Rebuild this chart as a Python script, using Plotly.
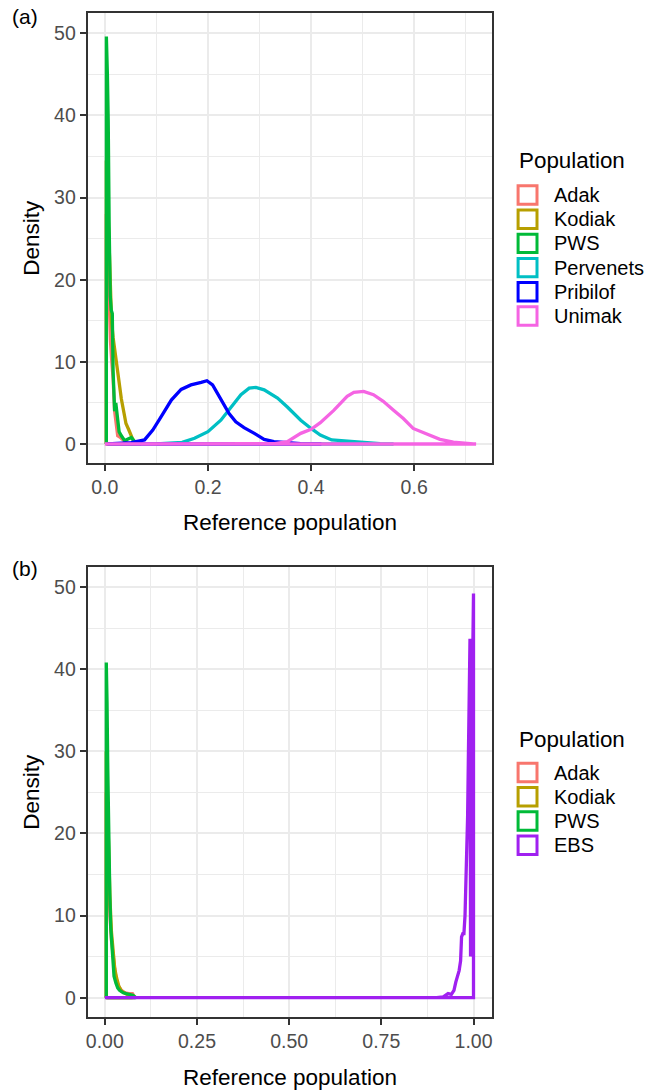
import plotly.graph_objects as go

W, H = 646, 1090
FONT = "Liberation Sans, Arial, Helvetica, sans-serif"

# ---------------- Panel (a) data ----------------
pops_a = ["Adak", "Kodiak", "PWS", "Pervenets", "Pribilof", "Unimak"]
colors_a = ["#F8766D", "#B79F00", "#00BA38", "#00BFC4", "#0000FF", "#F564E3"]

adak_a_x = [0.003, 0.003, 0.005, 0.007, 0.009, 0.011, 0.013, 0.016, 0.019, 0.022, 0.025, 0.030, 0.035, 0.040, 0.045]
adak_a_y = [0, 28, 25, 20, 15, 12.5, 10.5, 8, 4, 2, 1, 0.8, 0.5, 0.3, 0]

kodiak_a_x = [0.003, 0.003, 0.005, 0.007, 0.009, 0.011, 0.013, 0.016, 0.020, 0.025, 0.029, 0.032, 0.035, 0.038, 0.041, 0.046, 0.051, 0.056, 0.062]
kodiak_a_y = [0, 34.5, 31, 27, 22, 18, 15, 13, 11, 8.5, 7, 5.5, 4.5, 3.5, 2.5, 1.8, 0.9, 0.3, 0]

pws_a_x = [0.003, 0.003, 0.005, 0.0066, 0.0085, 0.0105, 0.0125, 0.0145, 0.016, 0.0175, 0.019, 0.0213, 0.0245, 0.0277, 0.032, 0.0386, 0.045, 0.0515, 0.058, 0.064, 0.070]
pws_a_y = [0, 49.6, 45, 39.4, 26.4, 18, 16.3, 15.9, 9, 4.5, 4, 5.0, 2.9, 1.5, 1.0, 0.4, 0.6, 0.8, 0.3, 0.1, 0]

perv_a_x = [0.10, 0.15, 0.174, 0.20, 0.225, 0.245, 0.264, 0.28, 0.293, 0.309, 0.335, 0.354, 0.38, 0.40, 0.418, 0.44, 0.47, 0.50, 0.534, 0.56]
perv_a_y = [0, 0.2, 0.7, 1.5, 2.9, 4.5, 6.0, 6.8, 6.9, 6.6, 5.6, 4.5, 2.9, 1.9, 1.1, 0.5, 0.35, 0.16, 0.04, 0]

prib_a_x = [0.005, 0.051, 0.077, 0.093, 0.109, 0.129, 0.148, 0.167, 0.187, 0.198, 0.209, 0.225, 0.241, 0.254, 0.270, 0.290, 0.309, 0.328, 0.354, 0.38, 0.42]
prib_a_y = [0, 0.16, 0.5, 1.7, 3.3, 5.35, 6.65, 7.2, 7.5, 7.7, 7.2, 5.35, 3.7, 2.7, 2.0, 1.3, 0.57, 0.3, 0.16, 0.04, 0]

unim_a_x = [0.0, 0.30, 0.33, 0.354, 0.38, 0.40, 0.418, 0.444, 0.47, 0.483, 0.502, 0.521, 0.54, 0.56, 0.579, 0.598, 0.624, 0.65, 0.676, 0.70, 0.72, 0.72]
unim_a_y = [0, 0.0, 0.05, 0.3, 1.3, 1.8, 2.6, 4.1, 5.8, 6.3, 6.4, 6.0, 5.2, 4.1, 3.1, 1.9, 1.2, 0.57, 0.24, 0.1, 0.04, 0]

series_a = [(adak_a_x, adak_a_y), (kodiak_a_x, kodiak_a_y), (pws_a_x, pws_a_y),
            (perv_a_x, perv_a_y), (prib_a_x, prib_a_y), (unim_a_x, unim_a_y)]

# ---------------- Panel (b) data ----------------
pops_b = ["Adak", "Kodiak", "PWS", "EBS"]
colors_b = ["#F8766D", "#B79F00", "#00BA38", "#A020F0"]

adak_b_x = [0.004, 0.004, 0.007, 0.010, 0.014, 0.018, 0.022, 0.026, 0.030, 0.036, 0.045, 0.055, 0.065, 0.075, 0.082]
adak_b_y = [0, 25, 20, 15, 10, 7, 5, 3.8, 2.5, 1.5, 0.9, 0.6, 0.5, 0.5, 0]

kodiak_b_x = [0.004, 0.004, 0.007, 0.010, 0.014, 0.018, 0.022, 0.027, 0.032, 0.038, 0.045, 0.055, 0.065, 0.075]
kodiak_b_y = [0, 30, 24, 18, 12, 8, 5.5, 3.5, 2.4, 1.4, 0.8, 0.5, 0.3, 0]

pws_b_x = [0.004, 0.004, 0.006, 0.008, 0.010, 0.0135, 0.016, 0.019, 0.022, 0.025, 0.030, 0.035, 0.040, 0.050, 0.058, 0.068, 0.076, 0.085]
pws_b_y = [0, 40.8, 36, 28, 20, 12.7, 8.6, 6, 4.6, 2.6, 1.8, 1.2, 0.9, 0.6, 0.5, 0.4, 0.3, 0]

ebs_b_x = [0.0, 0.90, 0.918, 0.931, 0.940, 0.947, 0.952, 0.957, 0.961, 0.965, 0.9676, 0.971, 0.974, 0.977, 0.979,
           0.982, 0.984, 0.986, 0.988, 0.9895, 0.9905, 0.992, 0.995, 0.9975, 0.9995, 1.0, 1.0]
ebs_b_y = [0, 0, 0.1, 0.5, 0.4, 0.9, 1.9, 2.6, 3.3, 4.5, 7.4, 7.8, 7.8, 10, 12.7,
           16.7, 22, 28.9, 36, 43.7, 43.7, 5, 15, 40, 49.2, 49.2, 0]

series_b = [(adak_b_x, adak_b_y), (kodiak_b_x, kodiak_b_y), (pws_b_x, pws_b_y), (ebs_b_x, ebs_b_y)]

LINE_W = 3.3

fig = go.Figure()

def add_series(series, colors, xa, ya):
    for (xs, ys), c in zip(series, colors):
        # closed density outline (polygon returns along the baseline)
        fx = list(xs) + [xs[0]]
        fy = list(ys) + [0]
        fig.add_trace(go.Scatter(x=fx, y=fy, mode="lines", xaxis=xa, yaxis=ya,
                                 line=dict(color=c, width=LINE_W), showlegend=False,
                                 hoverinfo="skip"))

add_series(series_a, colors_a, "x", "y")
add_series(series_b, colors_b, "x2", "y2")

def X(px):
    return px / W

def Y(py):
    return 1 - py / H

axis_style = dict(
    showline=True, mirror=True, linecolor="#333333", linewidth=1.8,
    ticks="outside", ticklen=6, tickwidth=1.8, tickcolor="#333333",
    tickfont=dict(size=19.5, color="#4D4D4D", family=FONT),
    showgrid=True, gridcolor="#EBEBEB", gridwidth=2.0, zeroline=False,
    layer="below traces",
)

fig.update_layout(
    width=W, height=H,
    margin=dict(l=0, r=0, t=0, b=0),
    paper_bgcolor="white", plot_bgcolor="white",
    font=dict(family=FONT),
    showlegend=False,
    xaxis=dict(axis_style, domain=[X(86), X(492)], range=[-0.0334, 0.7504], anchor="y",
               tick0=0, dtick=0.2, tickformat=".1f",
               minor=dict(dtick=0.1, tick0=0, showgrid=True, gridcolor="#EBEBEB", gridwidth=1.1, ticks="")),
    yaxis=dict(axis_style, domain=[Y(463), Y(13)], range=[-2.31, 52.47], anchor="x",
               tick0=0, dtick=10,
               minor=dict(dtick=5, tick0=0, showgrid=True, gridcolor="#EBEBEB", gridwidth=1.1, ticks="")),
    xaxis2=dict(axis_style, domain=[X(86), X(492)], range=[-0.0467, 1.0494], anchor="y2",
                tick0=0, dtick=0.25, tickformat=".2f",
                minor=dict(dtick=0.125, tick0=0, showgrid=True, gridcolor="#EBEBEB", gridwidth=1.1, ticks="")),
    yaxis2=dict(axis_style, domain=[Y(1017), Y(567)], range=[-2.35, 52.43], anchor="x2",
                tick0=0, dtick=10,
                minor=dict(dtick=5, tick0=0, showgrid=True, gridcolor="#EBEBEB", gridwidth=1.1, ticks="")),
)

annotations = []
shapes = []

def text(px, py, s, size, color="black", xanchor="center", angle=0):
    annotations.append(dict(x=X(px), y=Y(py), xref="paper", yref="paper", text=s, showarrow=False,
                            xanchor=xanchor, yanchor="middle", textangle=angle,
                            font=dict(size=size, color=color, family=FONT)))

# panel labels
text(8, 17, "(a)", 21, xanchor="left")
text(8, 568, "(b)", 21, xanchor="left")

# axis titles
text(29, 238, "Density", 22.5, angle=-90)
text(29, 792, "Density", 22.5, angle=-90)
text(289, 522, "Reference population", 22.5)
text(289, 1077, "Reference population", 22.5)

# legends
def legend(title_y, centers, names, colors):
    text(517.5, title_y, "Population", 22.4, xanchor="left")
    for cy, n, c in zip(centers, names, colors):
        shapes.append(dict(type="rect", xref="paper", yref="paper",
                           x0=X(518.5), x1=X(537.5), y0=Y(cy + 9.2), y1=Y(cy - 9.2),
                           line=dict(color=c, width=3), fillcolor="white"))
        text(552.5, cy, n, 20, xanchor="left")

legend(161, [195, 219.2, 243.4, 267.6, 291.8, 316], pops_a, colors_a)
legend(739, [772.5, 796.8, 821, 845.2], pops_b, colors_b)

fig.update_layout(annotations=annotations, shapes=shapes)

fig.write_html("out.html")
